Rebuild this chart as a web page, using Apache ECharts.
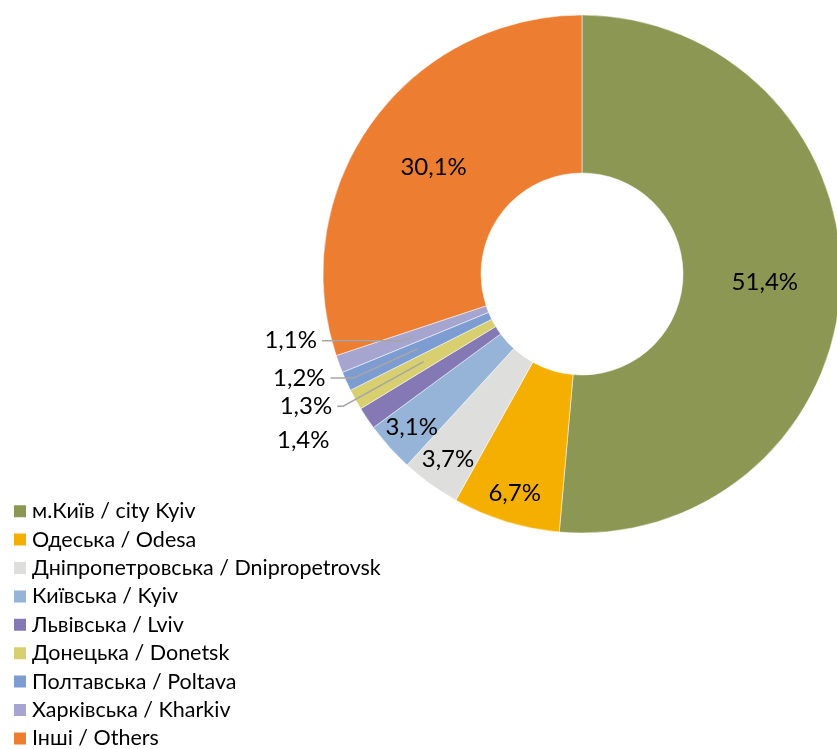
<!DOCTYPE html>
<html>
<head>
<meta charset="utf-8">
<script src="https://cdn.jsdelivr.net/npm/echarts@6/dist/echarts.min.js"></script>
<style>
  html, body { margin: 0; padding: 0; background: #fff; }
  #chart { width: 837px; height: 749px; }
</style>
</head>
<body>
<div id="chart"></div>
<script>
// назви областей (легенда)
const regions = [
  'м.Київ / city Kyiv',
  'Одеська / Odesa',
  'Дніпропетровська / Dnipropetrovsk',
  'Київська / Kyiv',
  'Львівська / Lviv',
  'Донецька / Donetsk',
  'Полтавська / Poltava',
  'Харківська / Kharkiv',
  'Інші / Others'
];
// частки, %
const shares = [51.4, 6.7, 3.7, 3.1, 1.4, 1.3, 1.2, 1.1, 30.1];
const colors = ['#8C9753', '#F5AF00', '#DEDEDC', '#95B4D8', '#8479B5', '#D8D070', '#7D9DD2', '#A5A5CF', '#ED7D31'];

const FONT = 'Lato';
const center = [582, 274];
const fmt = p => String(p.value).replace('.', ',') + '%';

// які підписи в якому шарі
const midLabels = [0, 8];        // усередині кільця
const outerLabels = [1, 2, 3];   // ближче до зовнішнього краю
const sideLabels = [4, 5, 6, 7]; // зліва, з виносками
// довжини виносок для малих секторів
const lineLen = { 4: [117, 0], 5: [92, 6], 6: [70, 23], 7: [11, 80] };

const labelText = { color: '#000', fontSize: 24, fontFamily: FONT };

const mainData = shares.map((v, i) => ({
  name: regions[i],
  value: v,
  itemStyle: { color: colors[i] },
  label: { show: midLabels.includes(i) }
}));

const outerData = shares.map((v, i) => ({
  name: regions[i],
  value: v,
  label: { show: outerLabels.includes(i) }
}));

const sideData = shares.map((v, i) => {
  const on = sideLabels.includes(i);
  return {
    name: regions[i],
    value: v,
    label: { show: on },
    labelLine: on ? {
      show: i !== 4,
      length: lineLen[i][0],
      length2: lineLen[i][1]
    } : { show: false }
  };
});

const chart = echarts.init(document.getElementById('chart'));
chart.setOption({
  backgroundColor: '#fff',
  animation: false,
  legend: {
    orient: 'vertical',
    left: 12,
    top: 500,
    height: 300,
    padding: 0,
    icon: 'rect',
    itemWidth: 14,
    itemHeight: 14,
    itemGap: 6,
    textStyle: { color: '#000', fontSize: 21.5, fontFamily: FONT, lineHeight: 22.4 },
    data: regions
  },
  series: [
    {
      name: 'main',
      type: 'pie',
      z: 1,
      center: center,
      radius: [101, 259],
      startAngle: 90,
      clockwise: true,
      avoidLabelOverlap: false,
      itemStyle: { borderColor: '#fff', borderWidth: 0.5 },
      label: Object.assign({ position: 'inside', formatter: fmt }, labelText),
      labelLine: { show: false },
      emphasis: { disabled: true },
      data: mainData
    },
    {
      name: 'outer-labels',
      type: 'pie',
      z: 5,
      center: center,
      radius: [193, 259],
      startAngle: 90,
      silent: true,
      avoidLabelOverlap: false,
      itemStyle: { color: 'rgba(0,0,0,0)' },
      label: Object.assign({ position: 'inside', formatter: fmt }, labelText),
      labelLine: { show: false },
      emphasis: { disabled: true },
      legendHoverLink: false,
      data: outerData
    },
    {
      name: 'side-labels',
      type: 'pie',
      z: 10,
      center: center,
      radius: [0, 181],
      startAngle: 90,
      silent: true,
      avoidLabelOverlap: false,
      itemStyle: { color: 'rgba(0,0,0,0)' },
      label: Object.assign({ position: 'outside', formatter: fmt, distanceToLabelLine: 5 }, labelText),
      labelLine: { lineStyle: { color: '#A6A6A6', width: 1.5 } },
      emphasis: { disabled: true },
      legendHoverLink: false,
      data: sideData
    }
  ]
});
</script>
</body>
</html>
